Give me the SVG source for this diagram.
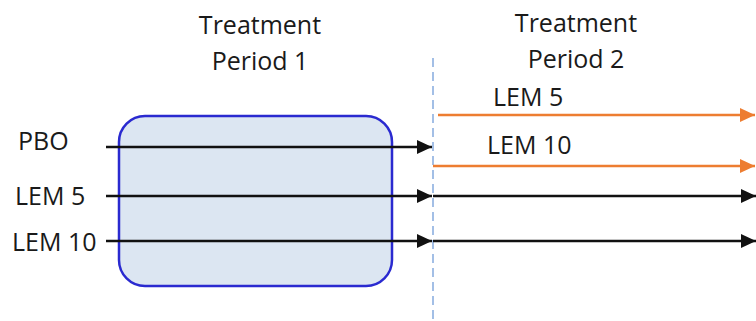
<svg xmlns="http://www.w3.org/2000/svg" width="756" height="321" viewBox="0 0 756 321">
<style>
  text { font-family: "Open Sans", "Liberation Sans", sans-serif; font-size: 25px; fill: #1a1a1a; }
  .mid { text-anchor: middle; }
  .blk { stroke: #111; stroke-width: 2.5; fill: none; }
  .org { stroke: #ed7d31; stroke-width: 2.5; fill: none; }
</style>
<defs>
  <marker id="ab" markerUnits="userSpaceOnUse" markerWidth="16" markerHeight="15" refX="15" refY="7" orient="auto">
    <path d="M0,0 L15,7 L0,14 z" fill="#111"/>
  </marker>
  <marker id="ao" markerUnits="userSpaceOnUse" markerWidth="16" markerHeight="15" refX="15" refY="7" orient="auto">
    <path d="M0,0 L15,7 L0,14 z" fill="#ed7d31"/>
  </marker>
</defs>
<rect width="756" height="321" fill="#ffffff"/>
<g id="period1-title">
  <text class="mid" x="260" y="34">Treatment</text>
  <text class="mid" x="260" y="70">Period 1</text>
</g>
<g id="period2-title">
  <text class="mid" x="576" y="32">Treatment</text>
  <text class="mid" x="576" y="68">Period 2</text>
</g>
<g id="period1-box">
  <rect x="119" y="116" width="273" height="170" rx="26" ry="26" fill="#dce6f2" stroke="#2a2ad0" stroke-width="2.5"/>
</g>
<g id="divider">
  <line x1="433" y1="58" x2="433" y2="321" stroke="#a3bfe6" stroke-width="2" stroke-dasharray="9,5"/>
</g>
<g id="labels">
  <text x="18" y="150">PBO</text>
  <text x="15" y="205">LEM 5</text>
  <text x="12" y="251">LEM 10</text>
  <text x="493" y="106">LEM 5</text>
  <text x="487" y="154">LEM 10</text>
</g>
<g id="connectors">
  <line class="blk" x1="106" y1="147" x2="432" y2="147" marker-end="url(#ab)"/>
  <line class="blk" x1="106" y1="196" x2="432" y2="196" marker-end="url(#ab)"/>
  <line class="blk" x1="106" y1="241" x2="432" y2="241" marker-end="url(#ab)"/>
  <line class="org" x1="438" y1="115" x2="755" y2="115" marker-end="url(#ao)"/>
  <line class="org" x1="433" y1="166" x2="755" y2="166" marker-end="url(#ao)"/>
  <line class="blk" x1="433" y1="196" x2="756" y2="196" marker-end="url(#ab)"/>
  <line class="blk" x1="433" y1="241" x2="756" y2="241" marker-end="url(#ab)"/>
</g>
</svg>
